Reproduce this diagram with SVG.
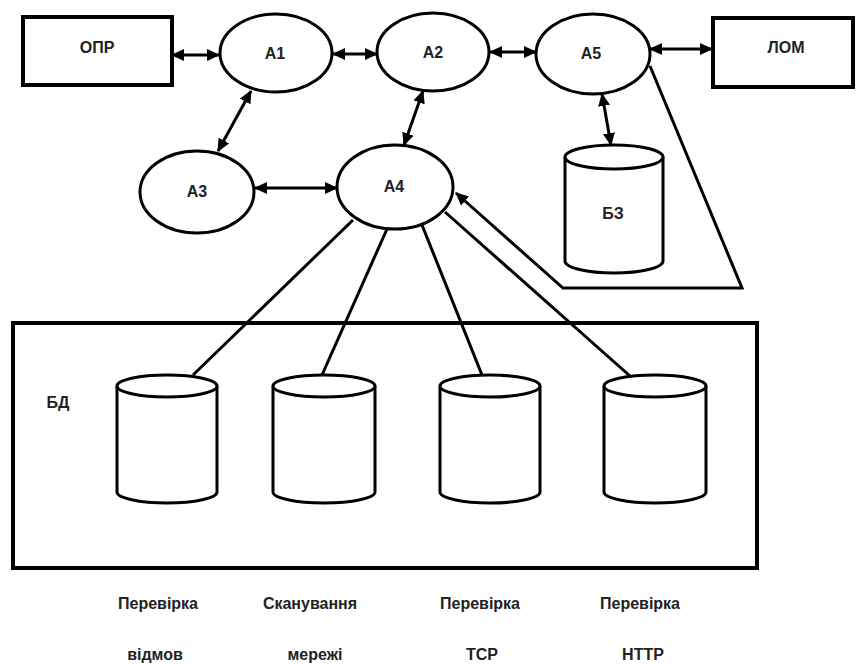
<svg xmlns="http://www.w3.org/2000/svg" width="856" height="664" viewBox="0 0 856 664">
<style>
.shape{fill:#fff;stroke:#000;stroke-width:3}
.box{fill:#fff;stroke:#000;stroke-width:4}
.frame{fill:none;stroke:#000;stroke-width:4}
.ln{fill:none;stroke:#000;stroke-width:3}
.arr{fill:none;stroke:#000;stroke-width:3;marker-start:url(#ah);marker-end:url(#ah)}
.lbl{font-family:"Liberation Sans",Arial,sans-serif;font-size:16px;font-weight:bold;fill:#222;text-anchor:middle}
</style>
<defs>
<marker id="ah" markerUnits="userSpaceOnUse" markerWidth="14" markerHeight="12" refX="12" refY="6" orient="auto-start-reverse" viewBox="0 0 14 12">
<path d="M0,0 L13,6 L0,12 z" fill="#000"/>
</marker>
</defs>
<rect width="856" height="664" fill="#fff"/>
<g id="bd">
<rect class="frame" x="13" y="323" width="744" height="245"/>
<text class="lbl" x="58" y="408">БД</text>
</g>
<g id="connectors">
<line class="arr" x1="172" y1="55" x2="219" y2="55"/>
<line class="arr" x1="333" y1="54" x2="377" y2="54"/>
<line class="arr" x1="490" y1="52" x2="536" y2="52"/>
<line class="arr" x1="650" y1="49" x2="712" y2="49"/>
<line class="arr" x1="251" y1="91" x2="218" y2="151"/>
<line class="arr" x1="423" y1="91" x2="404" y2="145"/>
<line class="arr" x1="602" y1="94" x2="611" y2="145"/>
<line class="arr" x1="255" y1="188" x2="337" y2="188"/>
<line class="ln" x1="353" y1="220" x2="193" y2="375"/>
<line class="ln" x1="387" y1="229" x2="322" y2="375"/>
<line class="ln" x1="422" y1="225" x2="482" y2="375"/>
<line class="ln" x1="445" y1="212" x2="630" y2="376"/>
<polyline class="ln" points="650,66 742,288 563,288 456,193" style="marker-end:url(#ah)"/>
</g>
<g id="opr">
<rect class="box" x="23" y="17" width="149" height="68"/>
<text class="lbl" x="97" y="53">ОПР</text>
</g>
<g id="lom">
<rect class="box" x="713" y="18" width="140" height="69"/>
<text class="lbl" x="786" y="53">ЛОМ</text>
</g>
<g id="a1">
<ellipse class="shape" cx="276" cy="53" rx="56" ry="39"/>
<text class="lbl" x="275" y="59">А1</text>
</g>
<g id="a2">
<ellipse class="shape" cx="433" cy="52" rx="56" ry="39"/>
<text class="lbl" x="433" y="58">А2</text>
</g>
<g id="a5">
<ellipse class="shape" cx="593" cy="54" rx="57" ry="40"/>
<text class="lbl" x="591" y="59">А5</text>
</g>
<g id="a3">
<ellipse class="shape" cx="197" cy="192" rx="57" ry="41"/>
<text class="lbl" x="197" y="197">А3</text>
</g>
<g id="a4">
<ellipse class="shape" cx="395" cy="187" rx="58" ry="42"/>
<text class="lbl" x="394" y="192">А4</text>
</g>
<g id="bz">
<path class="shape" d="M565,157 L565,261 A49,12 0 0 0 663,261 L663,157"/>
<ellipse class="shape" cx="614" cy="157" rx="49" ry="12"/>
<text class="lbl" x="613" y="219">БЗ</text>
</g>
<g id="db1">
<path class="shape" d="M117,386 L117,492 A50,11 0 0 0 217,492 L217,386"/>
<ellipse class="shape" cx="167" cy="386" rx="50" ry="11"/>
</g>
<g id="db2">
<path class="shape" d="M273,386 L273,492 A51,11 0 0 0 375,492 L375,386"/>
<ellipse class="shape" cx="324" cy="386" rx="51" ry="11"/>
</g>
<g id="db3">
<path class="shape" d="M440,386 L440,492 A50,11 0 0 0 540,492 L540,386"/>
<ellipse class="shape" cx="490" cy="386" rx="50" ry="11"/>
</g>
<g id="db4">
<path class="shape" d="M604,386 L604,492 A51,11 0 0 0 706,492 L706,386"/>
<ellipse class="shape" cx="655" cy="386" rx="51" ry="11"/>
</g>
<g id="labels">
<text class="lbl" x="158" y="609">Перевірка</text>
<text class="lbl" x="155" y="660">відмов</text>
<text class="lbl" x="310" y="609">Сканування</text>
<text class="lbl" x="315" y="660">мережі</text>
<text class="lbl" x="480" y="609">Перевірка</text>
<text class="lbl" x="482" y="660">TCP</text>
<text class="lbl" x="640" y="609">Перевірка</text>
<text class="lbl" x="643" y="660">HTTP</text>
</g>
</svg>
